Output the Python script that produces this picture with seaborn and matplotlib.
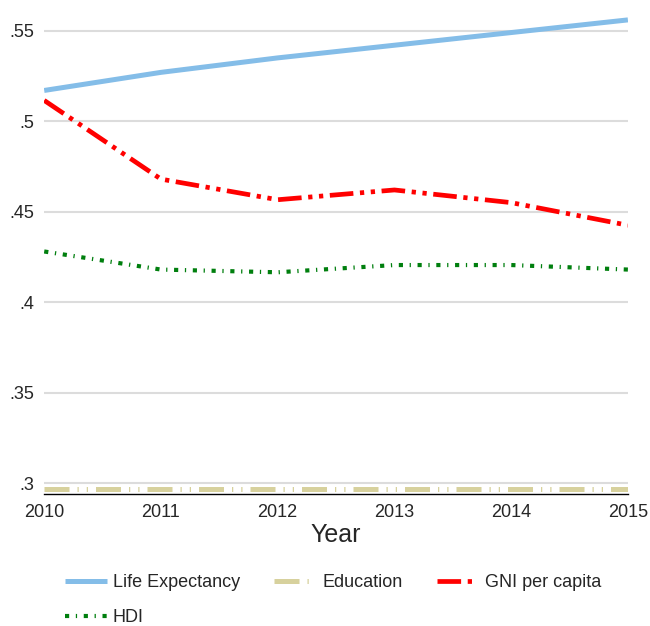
import seaborn as sns
import matplotlib.pyplot as plt
import pandas as pd

# values
years = [2010, 2011, 2012, 2013, 2014, 2015]
life_expectancy = [0.517, 0.527, 0.535, 0.542, 0.549, 0.556]
education = [0.2967, 0.2967, 0.2967, 0.2967, 0.2967, 0.2967]
gni_per_capita = [0.5115, 0.468, 0.4566, 0.462, 0.455, 0.4425]
hdi = [0.428, 0.418, 0.4165, 0.4205, 0.4205, 0.418]

y_ticks = [0.3, 0.35, 0.4, 0.45, 0.5, 0.55]
y_tick_labels = ['.3', '.35', '.4', '.45', '.5', '.55']

df = pd.DataFrame({
    'Year': years,
    'Life Expectancy': life_expectancy,
    'Education': education,
    'GNI per capita': gni_per_capita,
    'HDI': hdi,
})

sns.set_style('white')
plt.rcParams['font.family'] = ['Liberation Sans', 'DejaVu Sans']

styles = {
    'Life Expectancy': dict(color='#84BDE8', lw=3.6, ls='-'),
    'Education': dict(color='#D7D19D', lw=3.6, ls=(0, (5, 1.6, 0.25, 1.6, 0.25, 1.6))),
    'GNI per capita': dict(color='#FF0000', lw=3.4, ls=(0, (5, 1.4, 0.9, 1.4, 0.9, 1.4))),
    'HDI': dict(color='#007F0E', lw=3.0, ls=(0, (1, 1.6, 0.3, 1.6))),
}

fig = plt.figure(figsize=(6.5, 6.26), dpi=100)
ax = fig.add_axes([0.068, 0.211, 0.898, 0.763])

for name, st in styles.items():
    sns.lineplot(data=df, x='Year', y=name, ax=ax, color=st['color'],
                 linewidth=st['lw'], label=name, legend=False)
    ax.lines[-1].set_linestyle(st['ls'])
    ax.lines[-1].set_solid_capstyle('butt')
    ax.lines[-1].set_dash_capstyle('butt')

ax.set_xlim(2010, 2015)
ax.set_ylim(0.294, 0.558)
ax.set_yticks(y_ticks)
ax.set_yticklabels(y_tick_labels)
ax.set_xticks(years)
ax.yaxis.grid(True, color='#DCDCDC', lw=1.5)
ax.set_axisbelow(True)
for s in ['left', 'right', 'top']:
    ax.spines[s].set_visible(False)
ax.spines['bottom'].set_color('black')
ax.spines['bottom'].set_linewidth(1.0)
ax.tick_params(axis='x', direction='in', length=10, width=1, color='black',
               labelsize=13, pad=7)
ax.tick_params(axis='y', length=0, labelsize=13, pad=7)
ax.set_xlabel('Year', fontsize=18, labelpad=2)
ax.set_ylabel('')

# row-major legend: Life Expectancy, Education, GNI per capita / HDI
handles, labels = ax.get_legend_handles_labels()
order = [0, 3, 1, 2]
fig.legend([handles[i] for i in order], [labels[i] for i in order],
           loc='lower left', bbox_to_anchor=(0.1, 0.0),
           ncol=3, frameon=False, fontsize=13, handlelength=2.3,
           columnspacing=1.9, handletextpad=0.35, labelspacing=1.0,
           borderpad=0, borderaxespad=0)

fig.savefig('out.png', dpi=100)
